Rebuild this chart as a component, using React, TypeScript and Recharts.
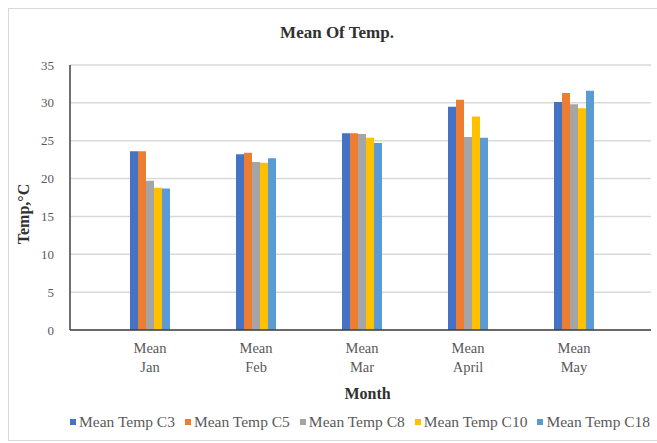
import React from 'react'
import { BarChart, Bar, XAxis, YAxis, CartesianGrid, Legend, Label } from 'recharts'

const months = ['Mean Jan', 'Mean Feb', 'Mean Mar', 'Mean April', 'Mean May']
const tempC3 = [23.6, 23.2, 26.0, 29.5, 30.1]
const tempC5 = [23.6, 23.4, 26.0, 30.4, 31.3]
const tempC8 = [19.7, 22.2, 25.9, 25.5, 29.8]
const tempC10 = [18.8, 22.1, 25.4, 28.2, 29.3]
const tempC18 = [18.7, 22.7, 24.7, 25.4, 31.6]
const yTicks = [0, 5, 10, 15, 20, 25, 30, 35]

const series = [
  { key: 'c3', name: 'Mean Temp C3', color: '#4472C4' },
  { key: 'c5', name: 'Mean Temp C5', color: '#ED7D31' },
  { key: 'c8', name: 'Mean Temp C8', color: '#A5A5A5' },
  { key: 'c10', name: 'Mean Temp C10', color: '#FFC000' },
  { key: 'c18', name: 'Mean Temp C18', color: '#5B9BD5' },
]

const data = months.map((m, i) => ({
  month: m,
  c3: tempC3[i],
  c5: tempC5[i],
  c8: tempC8[i],
  c10: tempC10[i],
  c18: tempC18[i],
}))

const FONT = '"Liberation Serif", "Times New Roman", serif'
const TEXT = '#595959'
const DARK = '#303030'

function MonthTick({ x, y, payload }: any) {
  const [top, bottom] = String(payload.value).split(' ')
  return (
    <text x={x} y={y} textAnchor="middle" fill={TEXT} fontSize={14.5} fontFamily={FONT}>
      <tspan x={x} dy={15}>{top}</tspan>
      <tspan x={x} dy={19}>{bottom}</tspan>
    </text>
  )
}

// legend drawn in series order (recharts sorts its payload by name)
function LegendRow() {
  return (
    <div style={{ display: 'flex', whiteSpace: 'nowrap', fontFamily: FONT, fontSize: 15.5, color: TEXT }}>
      {series.map((s) => (
        <span key={s.key} style={{ display: 'inline-flex', alignItems: 'center', marginRight: 10 }}>
          <span style={{ width: 6, height: 6, background: s.color, marginRight: 3, display: 'inline-block' }} />
          {s.name}
        </span>
      ))}
    </div>
  )
}

export default function App() {
  return (
    <div style={{ position: 'fixed', left: 0, top: 0, width: 657, height: 443, background: '#fff', overflow: 'hidden' }}>
      <div style={{ position: 'absolute', left: 8, top: 8, width: 700, height: 431, border: '1px solid #d9d9d9' }} />
      <div
        style={{
          position: 'absolute', left: 0, top: 23, width: 674, textAlign: 'center',
          fontFamily: FONT, fontSize: 17, fontWeight: 'bold', color: DARK,
        }}
      >
        Mean Of Temp.
      </div>
      <div style={{ position: 'absolute', left: 0, top: 0 }}>
        <BarChart
          width={657}
          height={443}
          data={data}
          margin={{ top: 65, right: 6, bottom: 53, left: 0 }}
          barSize={8}
          barGap={0}
        >
          <CartesianGrid vertical={false} stroke="#d9d9d9" strokeWidth={1.5} />
          <XAxis
            dataKey="month"
            height={60}
            padding={{ left: 27, right: 24 }}
            tickLine={false}
            axisLine={{ stroke: '#404040', strokeWidth: 1.5 }}
            tick={<MonthTick />}
            interval={0}
          >
            <Label
              content={({ viewBox }: any) => (
                <text
                  x={viewBox.x + viewBox.width / 2 + 7}
                  y={viewBox.y + 69}
                  textAnchor="middle"
                  fontFamily={FONT}
                  fontSize={16}
                  fontWeight="bold"
                  fill={DARK}
                >
                  Month
                </text>
              )}
            />
          </XAxis>
          <YAxis
            width={70}
            domain={[0, 35]}
            ticks={yTicks}
            tickLine={false}
            tickSize={0}
            tickMargin={16}
            axisLine={{ stroke: '#404040', strokeWidth: 1.5 }}
            tick={{ fill: TEXT, fontSize: 13, fontFamily: FONT }}
          >
            <Label
              content={() => (
                <text
                  x={23}
                  y={214}
                  transform="rotate(-90 23 214)"
                  textAnchor="middle"
                  dominantBaseline="central"
                  fontFamily={FONT}
                  fontSize={16}
                  fontWeight="bold"
                  fill={DARK}
                >
                  Temp,°C
                </text>
              )}
            />
          </YAxis>
          <Legend
            verticalAlign="middle"
            align="center"
            content={<LegendRow />}
            wrapperStyle={{ top: 413, left: 70, width: 800, height: 18 }}
          />
          {series.map((s) => (
            <Bar key={s.key} dataKey={s.key} name={s.name} fill={s.color} isAnimationActive={false} />
          ))}
        </BarChart>
      </div>
    </div>
  )
}
